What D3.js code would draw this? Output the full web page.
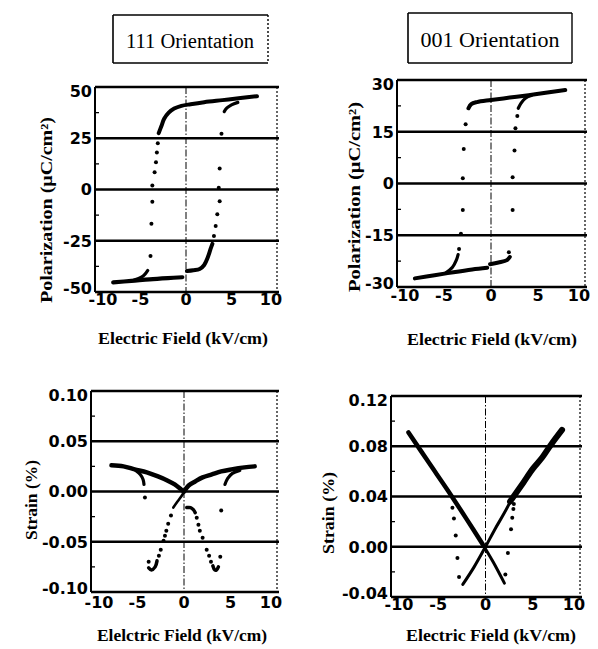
<!DOCTYPE html>
<html><head><meta charset="utf-8">
<script src="https://cdn.jsdelivr.net/npm/d3@7/dist/d3.min.js"></script>
<style>
html,body{margin:0;padding:0;background:#fff;}
svg{display:block;}
</style></head>
<body>
<svg id="chart" width="598" height="649"></svg>
<script>
// ---------------- DATA ----------------
const xTicks = [-10, -5, 0, 5, 10];
const p111YTicks = [-50, -25, 0, 25, 50];
const p001YTicks = [-30, -15, 0, 15, 30];
const s111YTicks = [-0.10, -0.05, 0.00, 0.05, 0.10];
const s001YTicks = [-0.04, 0.00, 0.04, 0.08, 0.12];

const titles = ["111 Orientation", "001 Orientation"];
const polLabel = "Polarization (\u03bcC/cm\u00b2)";
const strainLabel = "Strain (%)";
const fieldLabels = ["Electric Field (kV/cm)", "Electric Field (kV/cm)", "Elelctric Field (kV/cm)", "Electric Field (kV/cm)"];

// 111 polarization (uC/cm2) vs field (kV/cm)
const p111UpperLine = [[7.8,45.5],[6,44.6],[4,43.6],[2,42.6],[0.5,41.6],[-0.5,40.8],[-1.3,39.5],[-1.9,37.5],[-2.4,34.5],[-2.7,31],[-3.0,27.5]];
const p111UpperHook = [[4.2,38],[4.5,39.8],[5.0,41.3],[5.7,42.5]];
const p111LowerLine = [[-8.0,-45.3],[-6,-44.6],[-4,-43.8],[-2,-43.2],[-0.4,-42.8]];
const p111LowerHook = [[-5.7,-44.2],[-4.9,-42.8],[-4.5,-41.3],[-4.2,-39.5]];
const p111MidLine = [[0.1,-39.8],[0.8,-39.4],[1.5,-38.8],[2.0,-36.8],[2.4,-33],[2.7,-29],[2.9,-26.5]];
const p111Dots = [[-3.1,22.6],[-3.2,18.1],[-3.3,13.3],[-3.45,8.4],[-3.7,1.9],[-3.7,-6],[-3.8,-16.7],[-3.9,-32.4],
                  [3.07,-22.7],[3.26,-17.8],[3.44,-12.1],[3.7,-5.7],[3.6,0.8],[3.7,10.2],[3.9,27.2]];

// 001 polarization
const p001UpperLine = [[-2.4,21.8],[-2.1,23],[-1.5,23.6],[0,24.2],[2,24.9],[4,25.6],[6,26.4],[7.9,27.1]];
const p001UpperHook = [[2.9,21.8],[3.2,23.3],[3.7,24.8],[4.3,25.5]];
const p001LowerLine = [[-8.1,-27.5],[-6,-26.6],[-4,-25.7],[-2,-24.9],[-0.4,-24.4]];
const p001LowerHook = [[-4.8,-25.9],[-4.1,-24.3],[-3.7,-22.3],[-3.5,-20.6]];
const p001MidLine = [[-0.1,-23.4],[0.8,-22.9],[1.7,-22.2],[2.0,-21.3]];
const p001Dots = [[-2.7,17.2],[-2.9,10],[-3.0,1.5],[-3.0,-7.7],[-3.2,-14.6],[-3.4,-19],
                  [2.8,19.6],[2.6,16],[2.5,9.6],[2.3,1.8],[2.3,-7.7],[1.9,-19.9]];

// 111 strain (%)
const s111LeftUpper = [[-7.8,0.026],[-6.5,0.025],[-5.3,0.022],[-4,0.019],[-2.8,0.015],[-1.8,0.011],[-1.0,0.007],[-0.3,0.002],[0,0]];
const s111LeftHook = [[-5.2,0.021],[-4.7,0.017],[-4.4,0.012],[-4.3,0.007]];
const s111RightUpper = [[0,0],[0.5,0.006],[1.2,0.010],[2,0.014],[3,0.017],[4,0.020],[5.1,0.022],[6.5,0.024],[7.6,0.025]];
const s111RightHook = [[6.0,0.021],[5.2,0.018],[4.7,0.013],[4.4,0.007]];
const s111Descent = [[0.3,0.004],[-0.3,-0.005],[-0.7,-0.010],[-1.15,-0.016]];
const s111LeftBottom = [[-2.9,-0.069],[-3.1,-0.075],[-3.5,-0.078],[-3.8,-0.076]];
const s111RightTop = [[0.3,-0.016],[0.7,-0.016],[1.0,-0.018],[1.2,-0.021]];
const s111RightBottom = [[3.1,-0.074],[3.3,-0.078],[3.5,-0.078],[3.7,-0.075]];
const s111Dots = [[-1.4,-0.024],[-1.7,-0.032],[-1.9,-0.039],[-2.05,-0.044],[-2.2,-0.049],[-2.5,-0.058],[-2.7,-0.064],[-3.8,-0.070],[-4.2,-0.006],
                  [1.37,-0.026],[1.55,-0.033],[1.7,-0.039],[2.0,-0.046],[2.44,-0.058],[2.7,-0.064],[2.9,-0.070],[3.9,-0.065],[4.0,-0.019]];

// 001 strain (%)
const s001LeftThick = [[-8.15,0.091],[-6,0.067],[-4,0.045],[-2,0.022],[-0.3,0.002]];
const s001LeftThin = [[-0.3,0.002],[0.8,-0.012],[2.0,-0.029]];
const s001RightThick = [[2.6,0.036],[4,0.051],[5,0.062],[6,0.071],[7,0.082],[8.1,0.093]];
const s001RightThin = [[-2.4,-0.030],[-1.2,-0.016],[0,0],[1,0.014],[2,0.027],[2.9,0.040]];
const s001Dots = [[-3.5,0.031],[-3.34,0.0225],[-3.15,0.009],[-2.97,-0.009],[-2.8,-0.024],
                  [3.0,0.034],[2.95,0.030],[2.83,0.023],[2.7,0.014],[2.37,-0.005],[2.1,-0.022]];

// ---------------- LAYOUT ----------------
const svg = d3.select("#chart");
const tickFont = "'DejaVu Sans', sans-serif";
const serif = "'Liberation Serif', 'Times New Roman', serif";

const panels = [
  { x0:95, x1:277, y0:87, y1:292, yTicks:p111YTicks, fmt:v=>String(v),
    lines:[[p111UpperLine,4],[p111UpperHook,3.2],[p111LowerLine,4.2],[p111LowerHook,3.2],[p111MidLine,4]], dots:p111Dots,
    ylab:polLabel, ylx:46, yly:210, ylLen:186, ylSize:16, xlab:fieldLabels[0], xlx:183, xly:344, tickY:305 },
  { x0:397, x1:585, y0:80, y1:287, yTicks:p001YTicks, fmt:v=>String(v),
    lines:[[p001UpperLine,4],[p001UpperHook,3.2],[p001LowerLine,4],[p001LowerHook,3.2],[p001MidLine,4]], dots:p001Dots,
    ylab:polLabel, ylx:354, yly:197, ylLen:190, ylSize:16, xlab:fieldLabels[1], xlx:492, xly:345, tickY:301 },
  { x0:91, x1:277, y0:391, y1:592, yTicks:s111YTicks, fmt:v=>v.toFixed(2),
    lines:[[s111LeftUpper,4.5],[s111LeftHook,3.2],[s111RightUpper,4.5],[s111RightHook,3.2],[s111Descent,2.6],[s111LeftBottom,3.5],[s111RightTop,3.5],[s111RightBottom,3.5]], dots:s111Dots,
    ylab:strainLabel, ylx:31, yly:500, ylLen:80, ylSize:17, xlab:fieldLabels[2], xlx:182, xly:641, tickY:608 },
  { x0:391, x1:580, y0:396, y1:597, yTicks:s001YTicks, fmt:v=>v.toFixed(2),
    lines:[[s001LeftThick,4.5],[s001LeftThin,3],[s001RightThick,6],[s001RightThin,3]], dots:s001Dots,
    ylab:strainLabel, ylx:328, yly:513, ylLen:82, ylSize:17, xlab:fieldLabels[3], xlx:491, xly:641, tickY:610 }
];

panels.forEach(p => {
  const yMin = d3.min(p.yTicks), yMax = d3.max(p.yTicks);
  const x = d3.scaleLinear().domain([-10, 10]).range([p.x0, p.x1]);
  const y = d3.scaleLinear().domain([yMin, yMax]).range([p.y1, p.y0]);
  const g = svg.append("g");

  // horizontal gridlines at inner major ticks
  g.selectAll("line.grid").data(p.yTicks.slice(1, -1)).enter().append("line")
    .attr("x1", p.x0).attr("x2", p.x1 + 2)
    .attr("y1", d => y(d)).attr("y2", d => y(d))
    .attr("stroke", "#000").attr("stroke-width", 2.6);

  // vertical zero line (dash-dot)
  g.append("line").attr("x1", x(0)).attr("x2", x(0)).attr("y1", p.y0).attr("y2", p.y1)
    .attr("stroke", "#000").attr("stroke-width", 1).attr("stroke-dasharray", "7,2,1.5,2");

  // frame
  g.append("line").attr("x1", p.x0).attr("x2", p.x1 + 2).attr("y1", p.y0).attr("y2", p.y0)
    .attr("stroke", "#000").attr("stroke-width", 2.6);
  g.append("line").attr("x1", p.x0).attr("x2", p.x1 + 2).attr("y1", p.y1).attr("y2", p.y1)
    .attr("stroke", "#000").attr("stroke-width", 2.6);
  g.append("line").attr("x1", p.x0).attr("x2", p.x0).attr("y1", p.y0).attr("y2", p.y1)
    .attr("stroke", "#000").attr("stroke-width", 2);
  g.append("line").attr("x1", p.x1).attr("x2", p.x1).attr("y1", p.y0).attr("y2", p.y1)
    .attr("stroke", "#000").attr("stroke-width", 1.2).attr("stroke-dasharray", "2,2");

  // minor ticks on left frame
  const minors = d3.pairs(p.yTicks).map(([a, b]) => (a + b) / 2);
  g.selectAll("line.minor").data(minors).enter().append("line")
    .attr("x1", p.x0).attr("x2", p.x0 + 4).attr("y1", d => y(d)).attr("y2", d => y(d))
    .attr("stroke", "#000").attr("stroke-width", 1.3);

  // y tick labels
  g.selectAll("text.yt").data(p.yTicks).enter().append("text")
    .attr("x", p.x0 - 3)
    .attr("y", d => Math.min(Math.max(y(d), p.y0 + 4), p.y1 - 4))
    .attr("dy", "0.36em").attr("text-anchor", "end")
    .attr("font-family", tickFont).attr("font-weight", "bold").attr("font-size", 16)
    .text(p.fmt);

  // x tick labels
  g.selectAll("text.xt").data(xTicks).enter().append("text")
    .attr("x", (d, i) => x(d) + (i === 0 ? 8 : i === xTicks.length - 1 ? -6 : 0))
    .attr("y", p.tickY).attr("text-anchor", "middle")
    .attr("font-family", tickFont).attr("font-weight", "bold").attr("font-size", 16)
    .text(d => String(d));

  // data lines
  const line = d3.line().x(d => x(d[0])).y(d => y(d[1])).curve(d3.curveCatmullRom);
  p.lines.forEach(([arr, w]) => {
    g.append("path").attr("d", line(arr)).attr("fill", "none").attr("stroke", "#000")
      .attr("stroke-width", w).attr("stroke-linecap", "round").attr("stroke-linejoin", "round");
  });
  g.selectAll("circle").data(p.dots).enter().append("circle")
    .attr("cx", d => x(d[0])).attr("cy", d => y(d[1])).attr("r", 2).attr("fill", "#000");

  // axis titles
  svg.append("text").attr("x", p.xlx).attr("y", p.xly).attr("text-anchor", "middle")
    .attr("font-family", serif).attr("font-weight", "bold").attr("font-size", 17)
    .attr("textLength", 170).attr("lengthAdjust", "spacingAndGlyphs")
    .text(p.xlab);
  svg.append("text").attr("transform", `translate(${p.ylx},${p.yly}) rotate(-90)`)
    .attr("text-anchor", "middle").attr("dy", "0.35em")
    .attr("font-family", serif).attr("font-weight", "bold").attr("font-size", p.ylSize)
    .attr("textLength", p.ylLen).attr("lengthAdjust", "spacingAndGlyphs")
    .text(p.ylab);
});

// title boxes
const boxes = [{x:113, y:15, w:155, h:48, tx:190, ty:48, len:128, dottedRight:true},
               {x:408, y:13, w:164, h:50, tx:490, ty:47, len:139, dottedRight:false}];
boxes.forEach((b, i) => {
  const g = svg.append("g");
  g.append("line").attr("x1", b.x).attr("x2", b.x + b.w).attr("y1", b.y).attr("y2", b.y).attr("stroke", "#000").attr("stroke-width", 1.6);
  g.append("line").attr("x1", b.x).attr("x2", b.x + b.w).attr("y1", b.y + b.h).attr("y2", b.y + b.h).attr("stroke", "#000").attr("stroke-width", 1.6);
  g.append("line").attr("x1", b.x).attr("x2", b.x).attr("y1", b.y).attr("y2", b.y + b.h).attr("stroke", "#000").attr("stroke-width", 1.6);
  g.append("line").attr("x1", b.x + b.w).attr("x2", b.x + b.w).attr("y1", b.y).attr("y2", b.y + b.h).attr("stroke", "#000")
    .attr("stroke-width", 1.4).attr("stroke-dasharray", b.dottedRight ? "2,2" : null);
  g.append("text").attr("x", b.tx).attr("y", b.ty).attr("text-anchor", "middle")
    .attr("font-family", serif).attr("font-size", 20)
    .attr("textLength", b.len).attr("lengthAdjust", "spacingAndGlyphs")
    .text(titles[i]);
});
</script>
</body></html>
